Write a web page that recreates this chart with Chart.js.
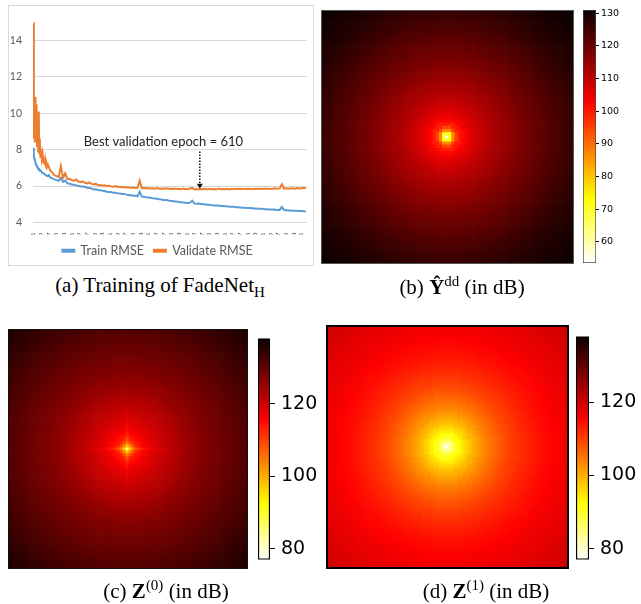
<!DOCTYPE html>
<html>
<head>
<meta charset="utf-8">
<script src="https://cdn.jsdelivr.net/npm/chart.js@4.4.1/dist/chart.umd.min.js"></script>
<style>
body { margin: 0; background: #fff; }
#fig { position: relative; width: 641px; height: 604px; overflow: hidden; background: #fff; }
canvas, .frame { position: absolute; }
.frame { box-sizing: border-box; pointer-events: none; }
.cap { position: absolute; text-align: center; font-family: "Liberation Serif", serif; font-size: 21px; color: #000; white-space: nowrap; }
.cap sup { font-size: 15px; }
.cap sub { font-size: 15px; }
</style>
</head>
<body>
<div id="fig">
  <div class="frame" style="left:8px;top:5px;width:306px;height:261px;border:1px solid #d9d9d9"></div>
  <canvas id="train" style="left:8px;top:5px" width="305" height="262"></canvas>

  <canvas id="mapB" style="left:321px;top:10px" width="252" height="253"></canvas>
  <div class="frame" style="left:321px;top:10px;width:253px;height:254px;border:1px solid #555"></div>
  <canvas id="barB" style="left:583px;top:0px" width="52" height="273"></canvas>

  <canvas id="mapC" style="left:8px;top:329px" width="239" height="239"></canvas>
  <div class="frame" style="left:8px;top:329px;width:240px;height:240px;border:1px solid #111"></div>
  <canvas id="barC" style="left:258px;top:321px" width="62" height="256"></canvas>

  <canvas id="mapD" style="left:327px;top:326px" width="240" height="241"></canvas>
  <div class="frame" style="left:326px;top:325px;width:243px;height:244px;border:2px solid #000"></div>
  <canvas id="barD" style="left:576px;top:319px" width="64" height="258"></canvas>

  <div class="cap" style="left:0px;width:320px;top:273px">(a) Training of FadeNet<sub>H</sub></div>
  <div class="cap" style="left:362px;width:200px;top:273px">(b) <b>Ŷ</b><sup>dd</sup> (in dB)</div>
  <div class="cap" style="left:66px;width:200px;top:577px">(c) <b>Z</b><sup>(0)</sup> (in dB)</div>
  <div class="cap" style="left:386px;width:200px;top:577px">(d) <b>Z</b><sup>(1)</sup> (in dB)</div>
</div>

<script>
// ---- (a) training curves ----
const epochs = [
  1, 3, 5, 7, 9, 11, 13, 15, 17, 19, 21, 23, 25, 27, 29, 32, 35, 38, 41, 44, 47, 50, 54, 58, 62, 66, 70,
  78, 86, 94, 102, 110, 118, 126, 134, 142, 150, 158, 166, 174, 182, 190, 198,
  206, 214, 222, 230, 238, 246, 254, 262, 270, 278, 286, 294, 302, 310, 318, 326,
  334, 342, 350, 358, 366, 374, 382, 390, 398, 406, 414, 422, 430, 438, 446, 454,
  462, 470, 478, 486, 494, 502, 510, 518, 526, 534, 542, 550, 558, 566, 574, 582,
  590, 598, 606, 614, 622, 630, 638, 646, 654, 662, 670, 678, 686, 694, 702, 710,
  718, 726, 734, 742, 750, 758, 766, 774, 782, 790, 798, 806, 814, 822, 830, 838,
  846, 854, 862, 870, 878, 886, 894, 902, 910, 918, 926, 934, 942, 950, 958, 966,
  974, 982, 990, 998
];
const trainRmse = [
  8.1, 7.7, 7.5, 7.4, 7.3, 7.22, 7.15, 7.08, 7.02, 7.0, 6.95, 6.92, 6.9, 6.86, 6.82, 6.78, 6.74, 6.7, 6.68, 6.63, 6.62, 6.56, 6.55, 6.6, 6.48, 6.45, 6.42,
  6.37, 6.33, 6.29, 6.45, 6.23, 6.3, 6.15, 6.13, 6.09, 6.07, 6.04, 6.01, 5.99, 5.96, 5.96, 5.91,
  5.89, 5.87, 5.81, 5.83, 5.79, 5.77, 5.74, 5.73, 5.69, 5.68, 5.67, 5.63, 5.64, 5.6, 5.59, 5.57,
  5.57, 5.53, 5.5, 5.51, 5.47, 5.47, 5.44, 5.68, 5.42, 5.41, 5.38, 5.37, 5.36, 5.33, 5.32, 5.31,
  5.28, 5.27, 5.23, 5.25, 5.21, 5.19, 5.18, 5.16, 5.15, 5.13, 5.11, 5.1, 5.08, 5.07, 5.09, 5.2,
  5.05, 5.03, 5.04, 5.01, 5.0, 4.99, 4.97, 4.97, 4.95, 4.94, 4.93, 4.93, 4.91, 4.91, 4.89, 4.89,
  4.87, 4.87, 4.86, 4.84, 4.84, 4.83, 4.81, 4.81, 4.8, 4.79, 4.79, 4.77, 4.77, 4.76, 4.75, 4.75,
  4.73, 4.73, 4.72, 4.71, 4.71, 4.7, 4.69, 4.69, 4.85, 4.68, 4.67, 4.66, 4.66, 4.65, 4.65, 4.64,
  4.63, 4.63, 4.62, 4.61
];
const validateRmse = [
  15.0, 8.6, 9.9, 8.4, 10.9, 9.2, 10.5, 8.2, 9.4, 7.9, 10.1, 7.8, 8.6, 7.6, 8.0, 7.5, 7.8, 7.3, 7.25, 7.5, 7.1, 7.0, 7.2, 7.05, 6.9, 6.8, 6.75,
  6.6, 6.55, 6.5, 7.1, 6.45, 6.7, 6.38, 6.4, 6.32, 6.3, 6.36, 6.25, 6.22, 6.26, 6.18, 6.15,
  6.2, 6.12, 6.1, 6.12, 6.05, 6.06, 6.02, 6.05, 6.0, 6.02, 5.98, 5.97, 6.0, 5.95, 5.96, 5.93,
  5.95, 5.92, 5.93, 5.9, 5.92, 5.9, 5.91, 6.3, 5.89, 5.9, 5.88, 5.9, 5.87, 5.88, 5.86, 5.89,
  5.86, 5.87, 5.85, 5.88, 5.85, 5.86, 5.84, 5.87, 5.84, 5.85, 5.83, 5.86, 5.83, 5.84, 5.87, 5.9,
  5.83, 5.84, 5.82, 5.84, 5.83, 5.85, 5.82, 5.85, 5.83, 5.84, 5.82, 5.86, 5.83, 5.84, 5.83, 5.85,
  5.82, 5.85, 5.83, 5.86, 5.84, 5.85, 5.83, 5.86, 5.84, 5.85, 5.83, 5.86, 5.84, 5.87, 5.84, 5.86,
  5.85, 5.87, 5.84, 5.86, 5.85, 5.88, 5.85, 5.87, 6.1, 5.86, 5.88, 5.86, 5.87, 5.88, 5.86, 5.89,
  5.87, 5.88, 5.89, 5.9
];
const epochTicks = [1, 29, 57, 85, 113, 141, 169, 197, 225, 253, 281, 309, 337, 365, 393, 421, 449, 477,
  505, 533, 561, 589, 617, 645, 673, 701, 729, 757, 785, 813, 841, 869, 897, 925, 953, 981];
const rmseTicks = [4, 6, 8, 10, 12, 14];
const bestEpoch = 610;

// ---- (b)-(d) radial loss profiles (dB), one value per grid-cell radius 0..57 ----
const lossB = [
  54, 72, 87, 95, 99.5, 102, 103.8, 105.2, 106.4, 107.5, 108.4, 109.3, 110.1, 110.9, 111.6, 112.3,
  113, 113.6, 114.2, 114.8, 115.4, 116, 116.6, 117.2, 117.8, 118.4, 118.9, 119.4, 119.9, 120.4,
  120.9, 121.4, 121.9, 122.4, 122.9, 123.4, 123.9, 124.4, 124.9, 125.4, 125.8, 126.2, 126.6, 127,
  127.4, 127.8, 128.1, 128.4, 128.7, 129, 129.3, 129.6, 129.9, 130.2, 130.4, 130.6, 130.8, 131
];
const lossC = [
  88, 103, 109, 112, 114, 115.5, 116.6, 117.5, 118.2, 118.9, 119.5, 120.1, 120.6, 121.1, 121.6, 122.1,
  122.6, 123.1, 123.6, 124.1, 124.6, 125.1, 125.5, 125.9, 126.3, 126.7, 127.1, 127.4, 127.7, 128,
  128.3, 128.6, 128.9, 129.2, 129.5, 129.8, 130.1, 130.4, 130.7, 131, 131.3, 131.6, 131.9, 132.2,
  132.5, 132.8, 133.1, 133.4, 133.7, 134, 134.3, 134.6, 134.9, 135.2, 135.5, 135.8, 136.1, 136.4
];
// extra brightening (dB) on the two axis lines of (c), by distance from the centre
const crossC = [
  2, 5, 4.2, 3.5, 3, 2.6, 2.2, 1.9, 1.6, 1.4, 1.2, 1, 0.9, 0.8, 0.7, 0.6, 0.5, 0.45, 0.4, 0.35, 0.3,
  0.3, 0.25, 0.25, 0.2, 0.2, 0.2, 0.15, 0.15, 0.15, 0.1, 0.1, 0.1, 0.1, 0.1, 0.1, 0.1, 0.1, 0.1, 0.1, 0.1
];
const lossD = [
  78, 83, 87, 90, 92, 93.8, 95.4, 96.9, 98.2, 99.5, 100.7, 101.8, 102.8, 103.7, 104.6, 105.4,
  106.2, 107, 107.7, 108.4, 109, 109.6, 110.2, 110.7, 111.2, 111.7, 112.2, 112.6, 113, 113.4,
  113.8, 114.2, 114.5, 114.8, 115.1, 115.4, 115.7, 116, 116.3, 116.5, 116.8, 117, 117.2, 117.4,
  117.6, 117.8, 118, 118.2, 118.4, 118.6, 118.8, 119, 119.2, 119.4, 119.6, 119.8, 120, 120.2
];
const rangeB = [53.5, 131];
const rangeCD = [77, 138];
const cbarTicksB = [60, 70, 80, 90, 100, 110, 120, 130];
const cbarTicksCD = [80, 100, 120];

const GRID = 81;
const MID = 40;

// matplotlib 'hot_r'
function hotR(t) {
  const u = 1 - Math.max(0, Math.min(1, t));
  const r = 0.0416 + (1 - 0.0416) * Math.min(1, u / 0.365079);
  const g = Math.max(0, Math.min(1, (u - 0.365079) / 0.380953));
  const b = Math.max(0, Math.min(1, (u - 0.746032) / 0.253968));
  return `rgb(${Math.round(r * 255)},${Math.round(g * 255)},${Math.round(b * 255)})`;
}

const bestEpochMarker = {
  id: 'bestEpochMarker',
  afterDatasetsDraw(chart) {
    const { ctx, scales: { x, y } } = chart;
    const px = x.getPixelForValue(bestEpoch);
    const top = y.getPixelForValue(7.9);
    const tip = y.getPixelForValue(5.86);
    ctx.save();
    ctx.strokeStyle = '#111';
    ctx.fillStyle = '#111';
    ctx.lineWidth = 1.5;
    ctx.setLineDash([1.5, 1.5]);
    ctx.beginPath();
    ctx.moveTo(px, top);
    ctx.lineTo(px, tip - 4);
    ctx.stroke();
    ctx.setLineDash([]);
    ctx.beginPath();
    ctx.moveTo(px - 3, tip - 5);
    ctx.lineTo(px + 3, tip - 5);
    ctx.lineTo(px, tip);
    ctx.closePath();
    ctx.fill();
    ctx.font = '13px Lato';
    ctx.fillStyle = '#222';
    ctx.textAlign = 'center';
    ctx.textBaseline = 'middle';
    ctx.fillText('Best validation epoch = ' + bestEpoch, x.getPixelForValue(477), y.getPixelForValue(8.43));
    ctx.restore();
  }
};

new Chart(document.getElementById('train'), {
  type: 'line',
  data: {
    datasets: [{
      label: 'Train RMSE',
      data: epochs.map((e, i) => ({ x: e, y: trainRmse[i] })),
      borderColor: '#5B9BD5',
      backgroundColor: '#5B9BD5',
      borderWidth: 2,
      pointRadius: 0,
      order: 2,
    }, {
      label: 'Validate RMSE',
      data: epochs.map((e, i) => ({ x: e, y: validateRmse[i] })),
      borderColor: '#ED7D31',
      backgroundColor: '#ED7D31',
      borderWidth: 2,
      pointRadius: 0,
      order: 1,
    }],
  },
  options: {
    responsive: false,
    animation: false,
    devicePixelRatio: 1,
    events: [],
    layout: { padding: { top: 9, right: 6, left: 0, bottom: 0 } },
    scales: {
      x: {
        type: 'linear', min: 0, max: 1002,
        afterBuildTicks: (ax) => { ax.ticks = epochTicks.map(v => ({ value: v })); },
        afterFit: (ax) => { ax.height = 12; },
        grid: { display: false },
        border: { display: false },
        ticks: { autoSkip: false, minRotation: 90, maxRotation: 90, padding: 2,
          font: { size: 6.5, family: 'Lato' }, color: '#333' },
      },
      y: {
        min: 4, max: 15,
        afterBuildTicks: (ax) => { ax.ticks = rmseTicks.map(v => ({ value: v })); },
        afterFit: (ax) => { ax.width = 25; },
        grid: { color: '#d9d9d9', drawTicks: false },
        border: { display: false },
        ticks: { padding: 11, font: { size: 10.5, family: 'Lato' }, color: '#595959' },
      },
    },
    plugins: {
      legend: {
        position: 'bottom',
        labels: { boxWidth: 12, boxHeight: 2, padding: 10, color: '#595959',
          font: { size: 12.5, family: 'Lato' },
          sort: (a, b) => a.datasetIndex - b.datasetIndex },
      },
      tooltip: { enabled: false },
    },
  },
  plugins: [bestEpochMarker],
});

function heatmap(id, profile, range, cross) {
  const canvas = document.getElementById(id);
  const pts = [];
  const colors = [];
  for (let i = 0; i < GRID; i++) {
    for (let j = 0; j < GRID; j++) {
      const dx = i - MID, dy = j - MID;
      let v = profile[Math.min(profile.length - 1, Math.round(Math.hypot(dx, dy)))];
      if (cross && (dx === 0 || dy === 0)) {
        v -= cross[Math.min(cross.length - 1, Math.abs(dx) + Math.abs(dy))];
      }
      pts.push({ x: i, y: j });
      colors.push(hotR((v - range[0]) / (range[1] - range[0])));
    }
  }
  const cell = Math.max(canvas.width, canvas.height) / GRID;
  new Chart(canvas, {
    type: 'scatter',
    data: { datasets: [{
      data: pts,
      pointStyle: 'rect',
      pointRadius: (cell + 0.7) / Math.SQRT2,
      pointBackgroundColor: colors,
      pointBorderWidth: 0,
      clip: false,
    }] },
    options: {
      responsive: false, animation: false, devicePixelRatio: 1, events: [],
      layout: { padding: 0, autoPadding: false },
      scales: {
        x: { type: 'linear', min: -0.5, max: GRID - 0.5, display: false },
        y: { type: 'linear', min: -0.5, max: GRID - 0.5, display: false },
      },
      plugins: { legend: { display: false }, tooltip: { enabled: false } },
    },
  });
}

function colorbar(id, range, ticks, barWidth, fontSize, tickLength, pad, edge, edgeWidth) {
  const canvas = document.getElementById(id);
  new Chart(canvas, {
    type: 'bar',
    data: { labels: [''], datasets: [{
      data: [range],
      backgroundColor: (c) => {
        const area = c.chart.chartArea;
        if (!area) return '#800';
        const g = c.chart.ctx.createLinearGradient(0, area.bottom, 0, area.top);
        for (let k = 0; k <= 64; k++) g.addColorStop(k / 64, hotR(k / 64));
        return g;
      },
      borderColor: edge,
      borderWidth: edgeWidth,
      borderSkipped: false,
      barPercentage: 1,
      categoryPercentage: 1,
    }] },
    options: {
      responsive: false, animation: false, devicePixelRatio: 1, events: [],
      layout: { padding: { top: 10, bottom: 10, left: 0, right: 0 } },
      scales: {
        x: { display: false },
        y: {
          position: 'right', min: range[0], max: range[1],
          afterBuildTicks: (ax) => { ax.ticks = ticks.map(v => ({ value: v })); },
          afterFit: (ax) => { ax.width = canvas.width - barWidth; },
          grid: { drawOnChartArea: false, tickLength: tickLength, color: '#000', tickWidth: 1 },
          border: { display: false },
          ticks: { padding: pad, color: '#000', font: { family: 'DejaVu Sans', size: fontSize } },
        },
      },
      plugins: { legend: { display: false }, tooltip: { enabled: false } },
    },
  });
}

heatmap('mapB', lossB, rangeB, null);
heatmap('mapC', lossC, rangeCD, crossC);
heatmap('mapD', lossD, rangeCD, null);
colorbar('barB', rangeB, cbarTicksB, 13, 9.5, 3, 2, '#444', 1);
colorbar('barC', rangeCD, cbarTicksCD, 12, 19, 5, 6, '#000', 1.5);
colorbar('barD', rangeCD, cbarTicksCD, 13, 19, 5, 6, '#000', 1.5);
</script>
</body>
</html>
